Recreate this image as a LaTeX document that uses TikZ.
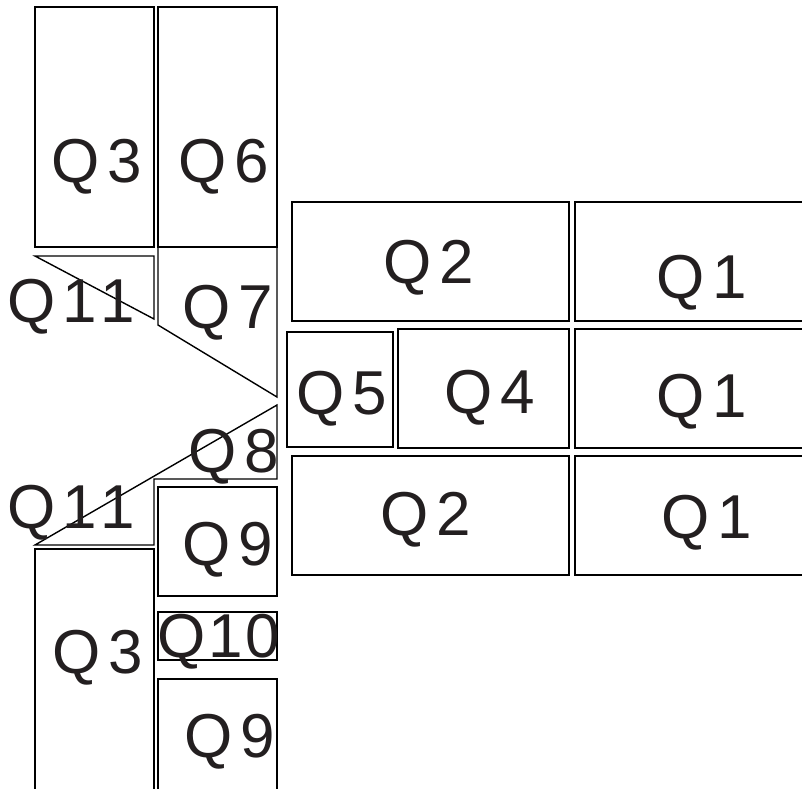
\documentclass[tikz,border=0pt]{standalone}
\usepackage{fontspec}
\setmainfont{Liberation Sans}
\newfontfamily\qf[LetterSpace=12]{Liberation Sans}
\newfontfamily\qfn[LetterSpace=4]{Liberation Sans}
\definecolor{ink}{HTML}{231F20}
\tikzset{
  part/.style={draw=black, line width=1.4pt, line join=miter},
  lab/.style={anchor=base, inner sep=0pt, text=ink, font=\qf\fontsize{62}{62}\selectfont},
  labn/.style={lab, font=\qfn\fontsize{62}{62}\selectfont}
}
\begin{document}
\begin{tikzpicture}[x=1pt,y=-1pt]
\useasboundingbox (0,0) rectangle (802,788);
\clip (0,0) rectangle (802,788);
% left columns
\draw[part] (35,7) rectangle (154,247);
\draw[part] (158,7) rectangle (277,247);
\draw[part] (158,247) -- (277,247) -- (277,397) -- (158,325) -- cycle;
\draw[part] (35,256) -- (154,256) -- (154,319) -- cycle;
\draw[part] (277,405) -- (35,545) -- (154,545) -- (154,479) -- (277,479) -- cycle;
\draw[part] (158,487) rectangle (277,596);
\draw[part] (158,612) rectangle (277,660);
\draw[part] (158,679) rectangle (277,800);
\draw[part] (35,549) rectangle (154,800);
% right block
\draw[part] (292,202) rectangle (569,321);
\draw[part] (575,202) rectangle (812,321);
\draw[part] (287,332) rectangle (393,447);
\draw[part] (398,329) rectangle (569,448);
\draw[part] (575,329) rectangle (812,448);
\draw[part] (292,456) rectangle (569,575);
\draw[part] (575,456) rectangle (812,575);
% labels
\node[lab] (q3a) at (97,182) {Q3};
\node[lab] (q6) at (224,182) {Q6};
\node[lab] (q11a) at (71,322) {Q11};
\node[lab] (q7) at (228,328) {Q7};
\node[lab] (q2a) at (429,283) {Q2};
\node[lab] (q1a) at (702,298) {Q1};
\node[lab] (q5) at (342,414) {Q5};
\node[lab] (q4) at (490,413) {Q4};
\node[lab] (q1b) at (702,417) {Q1};
\node[lab] (q8) at (234,472) {Q8};
\node[lab] (q11b) at (71,528) {Q11};
\node[lab] (q9a) at (228,565) {Q9};
\node[lab] (q2b) at (426,535) {Q2};
\node[lab] (q1c) at (707,538) {Q1};
\node[lab] (q3b) at (98,673) {Q3};
\node[labn] (q10) at (219,657) {Q10};
\node[lab] (q9b) at (230,757) {Q9};
\end{tikzpicture}
\end{document}
